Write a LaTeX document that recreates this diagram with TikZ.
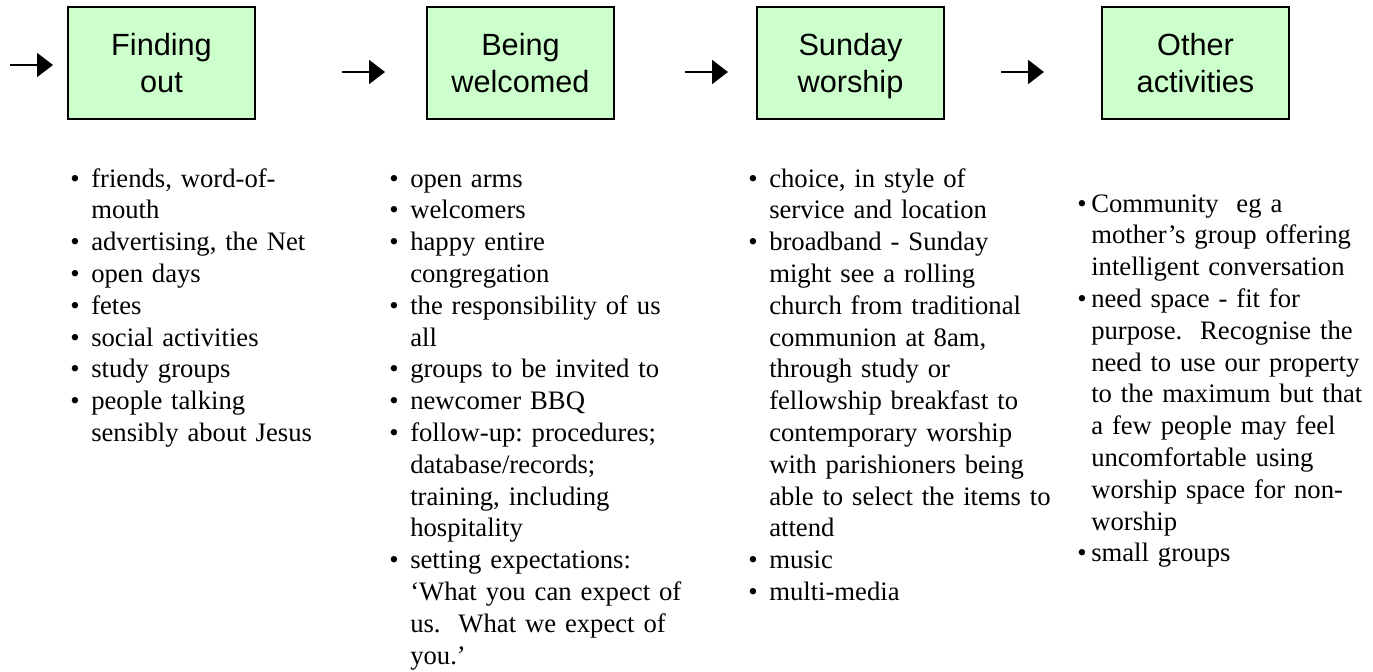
\documentclass[tikz,border=0pt]{standalone}
\usepackage{fontspec}
\setmainfont{Liberation Serif}
\newfontfamily\arialfont{Liberation Sans}
\usetikzlibrary{positioning, calc, arrows.meta}
\definecolor{stagegreen}{RGB}{204,255,204}
\newlength{\bulgap}
\newcommand{\itm}[1]{\hangindent=\bulgap\hangafter=1\makebox[\bulgap][l]{\textbullet}#1\par}

\begin{document}
\begin{tikzpicture}[x=0.75pt, y=-0.75pt,
    stage/.style={rectangle, 
      draw=black, 
      line width=1.2pt, 
      fill=stagegreen, 
      minimum width=140.25pt, 
      minimum height=84pt, 
      inner sep=0pt, 
      outer sep=0pt, 
      align=center, 
      text depth=0pt, 
      font=\arialfont\fontsize{23}{28}\selectfont},
    items/.style={text width=240pt, 
      inner sep=0pt, 
      align=left, 
      font=\fontsize{20}{23.85}\selectfont\frenchspacing, 
      execute at begin node={\setlength{\bulgap}{#1}}},
    flow/.style={-{Triangle[length=12pt, width=18pt]}, line width=1.5pt}]
  \useasboundingbox (0,0) rectangle (1373,671);

  \node [stage] (finding) at (161.5,63) {Finding\\out};
  \node [stage, right=129pt of finding] (welcomed) {Being\\welcomed};
  \node [stage, right=107.25pt of welcomed] (worship) {Sunday\\worship};
  \node [stage, right=118.5pt of worship] (other) {Other\\activities};


% ARROWS

  \coordinate (inA)  at ($(finding.west) + (-58,2)$);
  \coordinate (tipA) at ($(finding.west) + (-15,2)$);
  \coordinate (inB)  at ($(welcomed.west) + (-85,9)$);
  \coordinate (tipB) at ($(welcomed.west) + (-42,9)$);
  \coordinate (inC)  at ($(worship.west) + (-72,9)$);
  \coordinate (tipC) at ($(worship.west) + (-29,9)$);
  \coordinate (inD)  at ($(other.west) + (-101,9)$);
  \coordinate (tipD) at ($(other.west) + (-58,9)$);

  \draw [flow] (inA) -- (tipA);
  \draw [flow] (inB) -- (tipB);
  \draw [flow] (inC) -- (tipC);
  \draw [flow] (inD) -- (tipD);


% LISTS

  \node [items=15.75pt, 
    below=51pt of finding.south west, 
    anchor=base west, 
    xshift=1.5pt] (findlist) {%
    \itm{friends, word-of-\newline mouth}
    \itm{advertising, the Net}
    \itm{open days}
    \itm{fetes}
    \itm{social activities}
    \itm{study groups}
    \itm{people talking\newline sensibly about Jesus}
  };

  \node [items=15.75pt, 
    below=51pt of welcomed.south west, 
    anchor=base west, 
    xshift=-28.5pt] (welcomelist) {%
    \itm{open arms}
    \itm{welcomers}
    \itm{happy entire\newline congregation}
    \itm{the responsibility of us\newline all}
    \itm{groups to be invited to}
    \itm{newcomer BBQ}
    \itm{follow-up: procedures;\newline database/records;\newline training, including\newline hospitality}
    \itm{setting expectations:\newline ‘What you can expect of\newline us.\ \ What we expect of\newline you.’}
  };

  \node [items=15.75pt, 
    below=51pt of worship.south west, 
    anchor=base west, 
    xshift=-6.75pt] (worshiplist) {%
    \itm{choice, in style of\newline service and location}
    \itm{broadband - Sunday\newline might see a rolling\newline church from traditional\newline communion at 8am,\newline through study or\newline fellowship breakfast to\newline contemporary worship\newline with parishioners being\newline able to select the items to\newline attend}
    \itm{music}
    \itm{multi-media}
  };

  \node [items=10.5pt, 
    below=69.75pt of other.south west, 
    anchor=base west, 
    xshift=-18.75pt] (otherlist) {%
    \itm{Community\ \ eg a\newline mother’s group offering\newline intelligent conversation}
    \itm{need space - fit for\newline purpose.\ \ Recognise the\newline need to use our property\newline to the maximum but that\newline a few people may feel\newline uncomfortable using\newline worship space for non-\newline worship}
    \itm{small groups}
  };

\end{tikzpicture}
\end{document}
